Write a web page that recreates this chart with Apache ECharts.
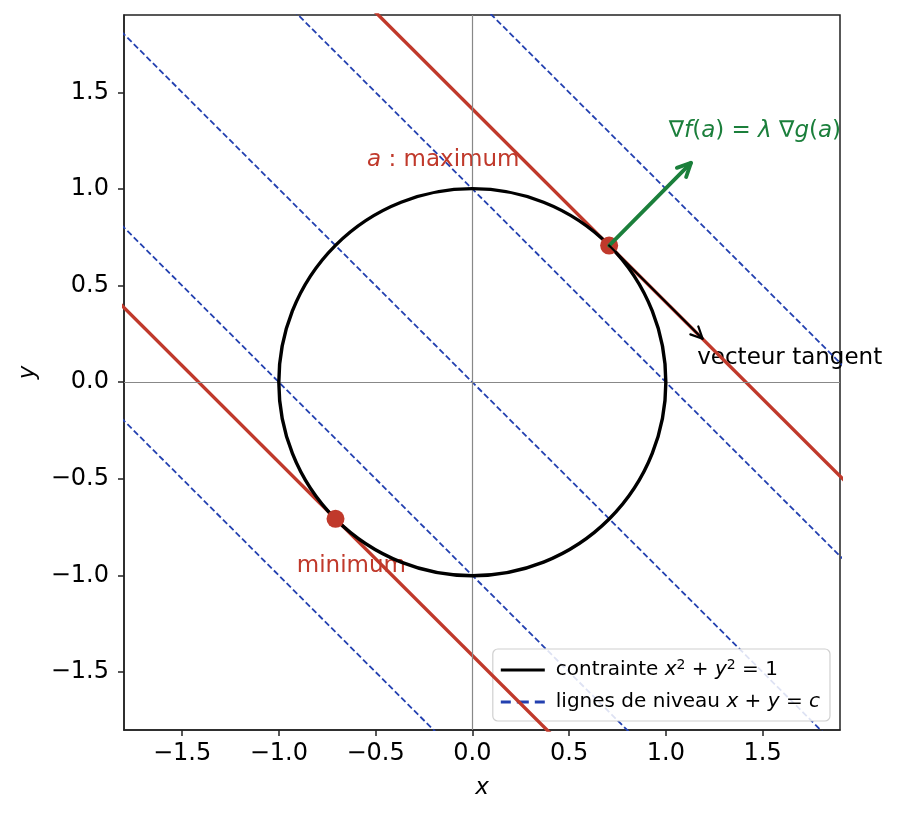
<!DOCTYPE html>
<html lang="fr">
<head>
    <meta charset="UTF-8">
    <title>Lagrange</title>
    <script src="https://cdn.jsdelivr.net/npm/echarts@6/dist/echarts.min.js"></script>
    <style>
        html, body { margin: 0; padding: 0; background: #fff; }
        #main { width: 897px; height: 819px; }
    </style>
</head>
<body>
<div id="main"></div>
<script>
    // axes
    var xRange = [-1.8, 1.9];
    var yRange = [-1.8, 1.9];
    var tickValues = [-1.5, -1.0, -0.5, 0.0, 0.5, 1.0, 1.5];

    // contrainte : cercle [cx, cy, rayon]
    var circle = [[0, 0, 1]];
    // lignes de niveau x + y = c
    var levelValues = [-2, -1, 0, 1, 2];
    var optimalLevels = [1.414, -1.414];
    // points a (max) et min
    var extrema = [[0.707, 0.707], [-0.707, -0.707]];
    // fleches [x0, y0, x1, y1]
    var gradArrow = [[0.707, 0.707, 1.13, 1.135]];
    var tangentArrow = [[0.707, 0.707, 1.19, 0.225]];
    // textes
    var annotations = [
        { pos: [1.46, 1.30], text: '{n|∇}{i|f}{n|(}{i|a}{n|) = }{i|λ}{n| ∇}{i|g}{n|(}{i|a}{n|)}', color: '#1b7f3b' },
        { pos: [-0.15, 1.15], text: '{i|a}{n| : maximum}', color: '#c0392b' },
        { pos: [1.64, 0.125], text: '{n|vecteur tangent}', color: '#000' },
        { pos: [-0.625, -0.953], text: '{n|minimum}', color: '#c0392b' }
    ];
    var legendNames = ['contrainte', 'lignes de niveau'];

    var RED = '#c0392b', BLUE = '#2340b0', GREEN = '#1b7f3b';
    var FONT = 'DejaVu Sans';

    function lineThrough(c) {
        // deux points de la droite x + y = c, coupée par la grille
        return [[-3, c + 3], [3, c - 3]];
    }

    function fmt(v) {
        return (v < 0 ? '\u2212' : '') + Math.abs(v).toFixed(1);
    }

    function arrowItem(width, head) {
        return function (params, api) {
            var p0 = api.coord([api.value(0), api.value(1)]);
            var p1 = api.coord([api.value(2), api.value(3)]);
            var ang = Math.atan2(p1[1] - p0[1], p1[0] - p0[0]);
            var spread = Math.PI / 7;
            var color = api.visual('color');
            var style = { stroke: color, fill: 'none', lineWidth: width, lineCap: 'round', lineJoin: 'round' };
            return {
                type: 'group',
                children: [
                    { type: 'line', shape: { x1: p0[0], y1: p0[1], x2: p1[0], y2: p1[1] }, style: style },
                    { type: 'polyline', shape: { points: [
                        [p1[0] - head * Math.cos(ang - spread), p1[1] - head * Math.sin(ang - spread)],
                        [p1[0], p1[1]],
                        [p1[0] - head * Math.cos(ang + spread), p1[1] - head * Math.sin(ang + spread)]
                    ] }, style: style }
                ]
            };
        };
    }

    var richText = {
        n: { fontFamily: FONT, fontSize: 23 },
        i: { fontFamily: FONT, fontSize: 23, fontStyle: 'italic' }
    };

    var series = [];

    // axes x=0 et y=0
    series.push({
        type: 'line', data: [], silent: true, z: 1,
        markLine: {
            silent: true, symbol: 'none', label: { show: false },
            lineStyle: { color: '#888', width: 1.2, type: 'solid' },
            data: [{ xAxis: 0 }, { yAxis: 0 }]
        }
    });

    // textes (sous les droites, comme dans l'original)
    series.push({
        type: 'scatter', symbol: 'circle', symbolSize: 1, z: 2, silent: true,
        itemStyle: { color: 'rgba(0,0,0,0)' },
        data: annotations.map(function (a) {
            return {
                value: a.pos,
                label: { show: true, opacity: 1, position: 'inside', formatter: a.text, color: a.color, rich: richText }
            };
        }),
        labelLayout: { hideOverlap: false }
    });

    levelValues.forEach(function (c) {
        series.push({
            name: legendNames[1], type: 'line', data: lineThrough(c),
            showSymbol: false, symbol: 'none', clip: true, z: 3,
            itemStyle: { color: BLUE },
            lineStyle: { color: BLUE, width: 1.8, type: [6, 3] }
        });
    });

    optimalLevels.forEach(function (c) {
        series.push({
            type: 'line', data: lineThrough(c), showSymbol: false, symbol: 'none', clip: true, z: 4,
            lineStyle: { color: RED, width: 3.4 }
        });
    });

    series.push({
        name: legendNames[0], type: 'custom', data: circle, z: 5,
        itemStyle: { color: '#000' },
        renderItem: function (params, api) {
            var c = api.coord([api.value(0), api.value(1)]);
            var r = api.size([api.value(2), 0])[0];
            return { type: 'circle', shape: { cx: c[0], cy: c[1], r: r },
                style: { fill: 'none', stroke: '#000', lineWidth: 3.4 } };
        }
    });

    series.push({
        type: 'scatter', data: extrema, symbolSize: 18, z: 6,
        itemStyle: { color: RED, opacity: 1 }
    });

    series.push({
        type: 'custom', data: gradArrow, z: 7, itemStyle: { color: GREEN },
        renderItem: arrowItem(3.8, 15)
    });
    series.push({
        type: 'custom', data: tangentArrow, z: 7, itemStyle: { color: '#000' },
        renderItem: arrowItem(2.2, 13)
    });

    var chart = echarts.init(document.getElementById('main'));
    chart.setOption({
        animation: false,
        backgroundColor: '#fff',
        textStyle: { fontFamily: FONT },
        grid: { left: 124, right: 57, top: 15, bottom: 89, show: true, borderColor: '#222', borderWidth: 1.5, backgroundColor: 'transparent' },
        legend: {
            orient: 'vertical', right: 67, bottom: 98,
            padding: [9, 10, 9, 8], itemGap: 12,
            itemWidth: 44, itemHeight: 3.5,
            borderColor: '#d0d0d0', borderWidth: 1.2, borderRadius: 5,
            backgroundColor: 'rgba(255,255,255,0.85)',
            data: [
                { name: legendNames[0], icon: 'path://M0,0H44V3H0Z' },
                { name: legendNames[1], icon: 'path://M0,0H10V3H0Z M16,0H28V3H16Z M34,0H44V3H34Z' }
            ],
            formatter: function (name) {
                if (name === legendNames[0]) return 'contrainte {i|x}{s|2} + {i|y}{s|2} = 1';
                return 'lignes de niveau {i|x} + {i|y} = {i|c}';
            },
            textStyle: {
                fontFamily: FONT, fontSize: 20, color: '#000', padding: [0, 0, 0, 6],
                rich: {
                    i: { fontFamily: FONT, fontSize: 20, fontStyle: 'italic' },
                    s: { fontFamily: FONT, fontSize: 14, verticalAlign: 'top', padding: [0, 0, 10, 0] }
                }
            }
        },
        xAxis: {
            type: 'value', min: xRange[0], max: xRange[1],
            name: 'x', nameLocation: 'middle', nameGap: 47,
            nameTextStyle: { fontFamily: FONT, fontSize: 23, fontStyle: 'italic', color: '#000' },
            axisLine: { show: true, onZero: false, lineStyle: { color: '#222', width: 1.5 } },
            axisTick: { show: true, length: 6, customValues: tickValues, lineStyle: { color: '#222', width: 1.5 } },
            axisLabel: { customValues: tickValues, formatter: fmt, color: '#000', fontSize: 24, margin: 12, fontFamily: FONT },
            splitLine: { show: false }
        },
        yAxis: {
            type: 'value', min: yRange[0], max: yRange[1],
            name: 'y', nameLocation: 'middle', nameGap: 84, nameRotate: 90,
            nameTextStyle: { fontFamily: FONT, fontSize: 23, fontStyle: 'italic', color: '#000' },
            axisLine: { show: true, onZero: false, lineStyle: { color: '#222', width: 1.5 } },
            axisTick: { show: true, length: 6, customValues: tickValues, lineStyle: { color: '#222', width: 1.5 } },
            axisLabel: { customValues: tickValues, formatter: fmt, color: '#000', fontSize: 24, margin: 15, fontFamily: FONT },
            splitLine: { show: false }
        },
        series: series
    });
</script>
</body>
</html>
